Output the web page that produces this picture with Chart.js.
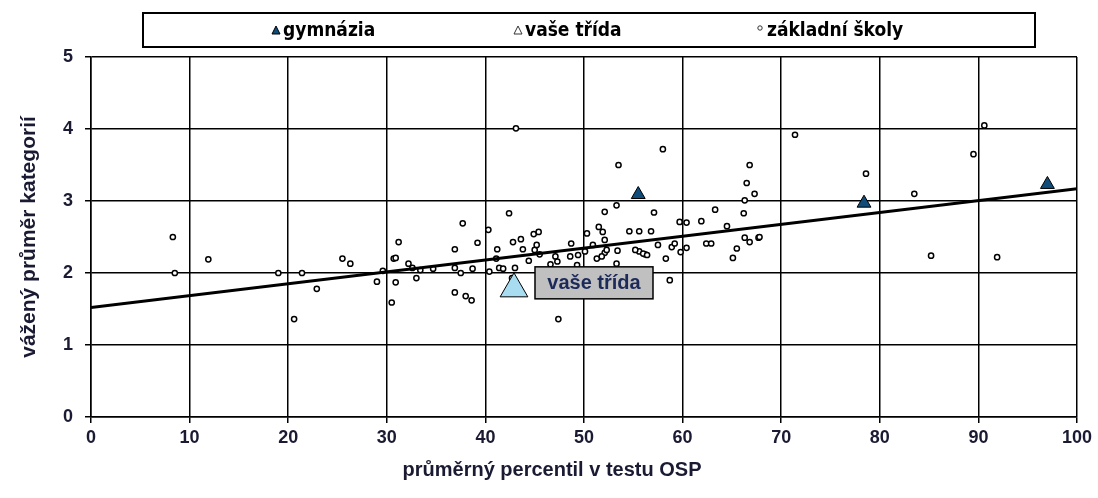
<!DOCTYPE html>
<html>
<head>
<meta charset="utf-8">
<script src="https://cdn.jsdelivr.net/npm/chart.js@4.4.1/dist/chart.umd.min.js"></script>
<style>
  body { margin: 0; background: #fff; }
  #wrap { width: 1098px; height: 498px; position: relative; }
</style>
</head>
<body>
<div id="wrap"><canvas id="myChart"></canvas></div>
<script>
/** data */
const skolyX = [
  8.3, 8.5, 11.9, 19.0, 21.4, 22.9, 20.6,
  25.5, 26.3, 29.0, 29.6, 31.2, 30.7, 30.9, 30.9, 30.5, 32.2, 32.6, 33.0, 33.4, 34.7,
  37.7, 36.9, 39.2, 36.9, 37.5, 38.7, 36.9, 38.0, 38.6,
  43.1, 42.4, 40.3, 41.2, 42.8, 43.6, 44.9, 45.4, 43.8, 45.0, 45.2, 44.4, 45.5, 41.1,
  40.4, 41.4, 41.8, 43.0, 42.7, 42.8, 47.1, 47.3, 46.6, 48.7, 48.6, 49.4, 50.3, 50.1,
  51.3, 51.5, 51.9, 52.1, 52.1, 52.1, 53.3, 53.5, 47.4, 49.3, 45.7, 51.8, 52.3, 50.9,
  58.0, 57.1, 54.6, 55.6, 56.8, 59.7, 60.4, 61.9, 63.3, 64.5, 66.2, 66.3, 67.3, 66.5,
  66.8, 53.4, 55.6, 56.2, 57.5, 58.3, 58.9, 59.2, 59.8, 60.4, 62.4, 62.9, 65.1, 65.5,
  66.3, 66.8, 67.7, 58.7, 53.3, 56.0, 56.4, 55.2,
  71.4, 67.8, 78.6, 83.5, 85.2, 89.5, 90.6, 91.9,
];
const skolyY = [
  2.5, 2.0, 2.19, 2.0, 2.0, 1.78, 1.36,
  2.2, 2.13, 1.88, 2.03, 2.43, 2.2, 2.21, 1.87, 1.59, 2.13, 2.07, 1.93, 2.04, 2.06,
  2.69, 2.33, 2.42, 2.07, 2.0, 2.06, 1.73, 1.68, 1.62,
  4.01, 2.83, 2.6, 2.33, 2.43, 2.47, 2.54, 2.57, 2.33, 2.32, 2.39, 2.17, 2.26, 2.2,
  2.02, 2.07, 2.06, 2.07, 1.93, 1.86, 2.23, 2.16, 2.12, 2.41, 2.23, 2.25, 2.55, 2.3,
  2.2, 2.64, 2.57, 2.85, 2.46, 2.28, 2.94, 3.5, 1.36, 2.11, 2.02, 2.23, 2.32, 2.39,
  3.72, 2.84, 2.58, 2.58, 2.58, 2.71, 2.7, 2.72, 2.88, 2.65, 2.83, 3.01, 3.1, 3.25,
  3.5, 2.31, 2.3, 2.26, 2.39, 2.2, 2.36, 2.41, 2.29, 2.35, 2.41, 2.41, 2.21, 2.34,
  2.49, 2.43, 2.49, 1.9, 2.13, 2.27, 2.25, 2.32,
  3.92, 2.5, 3.38, 3.1, 2.24, 3.65, 4.05, 2.22,
];
const gymX = [55.5, 78.4, 97.0];
const gymY = [3.09, 2.97, 3.23];
const tridaX = [42.9];
const tridaY = [1.78];
const trendX = [0, 100];
const trendY = [1.52, 3.17];

const legendLabels = ['gymnázia', 'vaše třída', 'základní školy'];
const tridaLabel = 'vaše třída';
const xTitle = 'průměrný percentil v testu OSP';
const yTitle = 'vážený průměr kategorií';

const toPoints = (xs, ys) => xs.map((x, i) => ({ x: x, y: ys[i] }));

const textColor = '#1a1a33';
const navy = '#0f4c7a';
const arial = '"Liberation Sans", Arial, sans-serif';
const narrow = '"Liberation Sans Narrow", "DejaVu Sans Condensed", sans-serif';

// legend box at the top, drawn by hand
const boxLegend = {
  id: 'boxLegend',
  afterDraw(chart) {
    const ctx = chart.ctx;
    ctx.save();
    ctx.strokeStyle = '#000';
    ctx.lineWidth = 2;
    ctx.strokeRect(143, 13, 892, 34);
    ctx.font = 'bold 19px ' + narrow;
    ctx.fillStyle = '#000';
    ctx.textBaseline = 'middle';
    const cy = 31;
    // gymnázia
    ctx.beginPath();
    ctx.moveTo(276, cy - 5);
    ctx.lineTo(280, cy + 3);
    ctx.lineTo(272, cy + 3);
    ctx.closePath();
    ctx.fillStyle = navy;
    ctx.fill();
    ctx.strokeStyle = '#000';
    ctx.lineWidth = 1;
    ctx.stroke();
    ctx.fillStyle = '#000';
    ctx.fillText(legendLabels[0], 283, cy);
    // vaše třída
    ctx.beginPath();
    ctx.moveTo(518, cy - 5);
    ctx.lineTo(522, cy + 3);
    ctx.lineTo(514, cy + 3);
    ctx.closePath();
    ctx.strokeStyle = '#333';
    ctx.stroke();
    ctx.fillText(legendLabels[1], 525, cy);
    // základní školy
    ctx.beginPath();
    ctx.arc(760, cy - 3, 2.2, 0, Math.PI * 2);
    ctx.stroke();
    ctx.fillText(legendLabels[2], 767, cy);
    ctx.restore();
  },
};

// grey label next to "vaše třída" + x axis title centred on the page
const tridaTag = {
  id: 'tridaTag',
  afterDatasetsDraw(chart) {
    const ctx = chart.ctx;
    const px = chart.scales.x.getPixelForValue(tridaX[0]);
    const py = chart.scales.y.getPixelForValue(tridaY[0]);
    const left = px + 21;
    const top = py - 22;
    ctx.save();
    ctx.fillStyle = '#c0c0c0';
    ctx.fillRect(left, top, 118, 32);
    ctx.strokeStyle = '#000';
    ctx.lineWidth = 1.5;
    ctx.strokeRect(left, top, 118, 32);
    ctx.font = 'bold 20px ' + arial;
    ctx.fillStyle = '#1c2a5a';
    ctx.textBaseline = 'middle';
    ctx.textAlign = 'center';
    ctx.fillText(tridaLabel, left + 59, top + 17);
    ctx.restore();
  },
  afterDraw(chart) {
    const ctx = chart.ctx;
    ctx.save();
    ctx.font = 'bold 20px ' + arial;
    ctx.fillStyle = textColor;
    ctx.textBaseline = 'middle';
    ctx.textAlign = 'center';
    ctx.fillText(xTitle, 552, 470);
    ctx.restore();
  },
};

const myChart = new Chart(document.getElementById('myChart'), {
  type: 'scatter',
  data: {
    datasets: [
      {
        label: legendLabels[1],
        data: toPoints(tridaX, tridaY),
        pointStyle: 'triangle',
        pointRadius: 16,
        backgroundColor: '#a8dcf0',
        borderColor: '#000',
        borderWidth: 1,
        order: 0,
      },
      {
        label: legendLabels[0],
        data: toPoints(gymX, gymY),
        pointStyle: 'triangle',
        pointRadius: 8,
        backgroundColor: navy,
        borderColor: '#000',
        borderWidth: 1,
        order: 1,
      },
      {
        type: 'line',
        label: 'trend',
        data: toPoints(trendX, trendY),
        borderColor: '#000',
        borderWidth: 3,
        pointRadius: 0,
        fill: false,
        order: 2,
      },
      {
        label: legendLabels[2],
        data: toPoints(skolyX, skolyY),
        pointStyle: 'circle',
        pointRadius: 2.6,
        backgroundColor: '#fff',
        borderColor: '#000',
        borderWidth: 1.5,
        order: 3,
      },
    ],
  },
  options: {
    responsive: true,
    maintainAspectRatio: false,
    animation: false,
    layout: {
      padding: { left: 0, right: 21, top: 57, bottom: 0 },
    },
    plugins: {
      legend: { display: false },
      tooltip: { enabled: false },
    },
    scales: {
      x: {
        type: 'linear',
        min: 0,
        max: 100,
        ticks: {
          stepSize: 10,
          color: textColor,
          padding: 4,
          font: { family: arial, size: 18, weight: 'bold' },
        },
        grid: { color: '#000', lineWidth: 1.5, tickLength: 6 },
        border: { color: '#000', width: 1.5 },
        afterFit(scale) {
          scale.height = 81;
        },
      },
      y: {
        min: 0,
        max: 5,
        ticks: {
          stepSize: 1,
          color: textColor,
          padding: 12,
          font: { family: arial, size: 18, weight: 'bold' },
        },
        grid: { color: '#000', lineWidth: 1.5, tickLength: 6 },
        border: { color: '#000', width: 1.5 },
        title: {
          display: true,
          text: yTitle,
          color: textColor,
          padding: { top: 17, bottom: 0 },
          font: { family: arial, size: 21, weight: 'bold' },
        },
        afterFit(scale) {
          scale.width = 91;
        },
      },
    },
  },
  plugins: [boxLegend, tridaTag],
});
</script>
</body>
</html>
